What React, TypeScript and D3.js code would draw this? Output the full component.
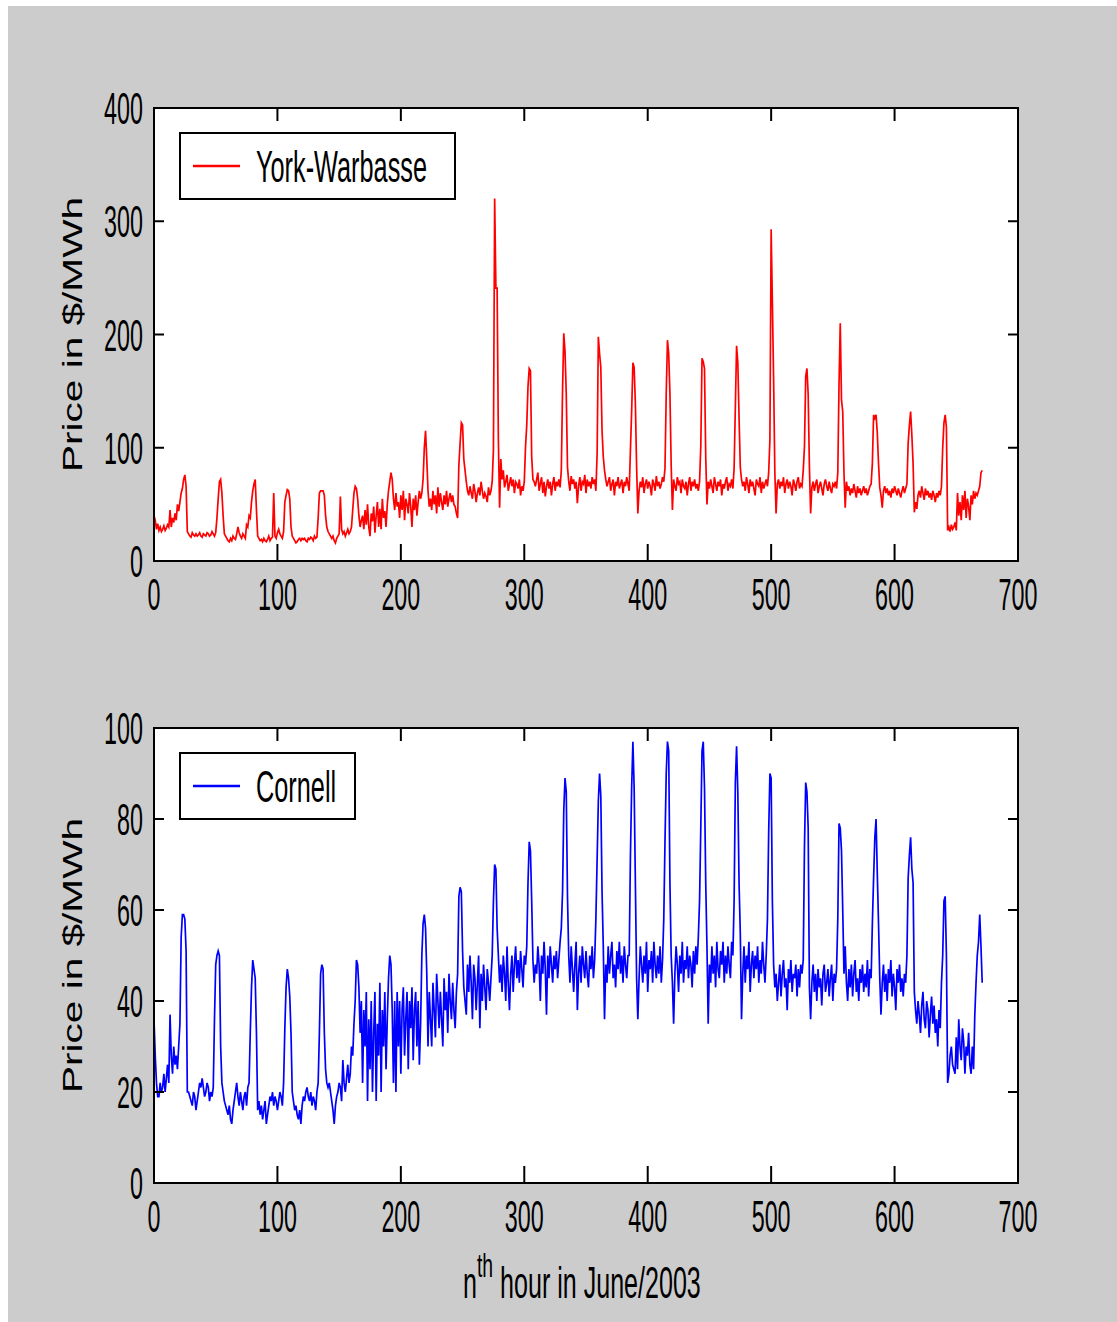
import React from 'react';
import * as d3 from 'd3';

// Hourly prices ($/MWh), one row of 28 samples per block.
const yorkRows: number[][] = [
  [40, 36, 28, 33, 27, 30, 26, 28, 31, 27, 29, 32, 30, 45, 30, 38, 34, 42, 36, 50, 44, 52, 60, 64, 72, 76, 66, 26],
  [24, 22, 21, 25, 23, 22, 24, 22, 23, 25, 22, 21, 24, 23, 22, 25, 24, 22, 23, 26, 24, 22, 25, 38, 55, 70, 72, 60],
  [40, 24, 22, 20, 18, 17, 20, 18, 22, 20, 19, 24, 30, 25, 22, 20, 24, 22, 20, 32, 30, 40, 38, 52, 62, 68, 72, 45],
  [22, 20, 18, 19, 17, 20, 18, 17, 19, 22, 18, 20, 21, 60, 22, 20, 25, 28, 24, 22, 20, 26, 52, 58, 63, 62, 55, 30],
  [22, 20, 18, 16, 17, 19, 20, 18, 20, 19, 20, 18, 17, 20, 19, 21, 20, 18, 22, 20, 21, 38, 60, 62, 62, 62, 58, 40],
  [30, 26, 24, 22, 20, 22, 18, 16, 20, 22, 24, 57, 28, 24, 26, 22, 25, 28, 24, 26, 30, 45, 60, 66, 64, 55, 40, 30],
  [36, 40, 28, 45, 32, 50, 30, 22, 42, 35, 48, 25, 40, 52, 30, 46, 28, 55, 38, 44, 30, 50, 62, 70, 78, 72, 55, 45],
  [60, 48, 52, 38, 58, 45, 62, 36, 55, 50, 42, 60, 48, 30, 55, 45, 58, 40, 52, 62, 55, 60, 72, 100, 115, 90, 62, 48],
  [55, 45, 62, 50, 58, 42, 65, 48, 60, 52, 45, 58, 50, 62, 48, 55, 60, 52, 58, 50, 48, 42, 38, 85, 104, 122, 120, 90],
  [80, 70, 62, 58, 66, 60, 55, 68, 62, 52, 60, 65, 58, 70, 62, 55, 60, 57, 52, 65, 58, 62, 70, 98, 320, 241, 241, 107],
  [47, 90, 72, 80, 65, 70, 76, 62, 68, 74, 66, 72, 60, 70, 68, 64, 72, 58, 66, 62, 70, 101, 120, 154, 170, 168, 92, 72],
  [70, 66, 72, 78, 62, 68, 74, 60, 70, 57, 66, 72, 64, 70, 58, 68, 74, 62, 70, 66, 72, 65, 80, 151, 201, 185, 148, 83],
  [70, 62, 75, 68, 72, 64, 70, 51, 66, 74, 62, 70, 68, 76, 60, 72, 66, 70, 64, 74, 68, 72, 62, 94, 198, 183, 171, 115],
  [92, 80, 72, 66, 70, 74, 62, 68, 72, 58, 70, 66, 74, 64, 68, 72, 60, 70, 66, 74, 68, 62, 98, 133, 175, 171, 139, 83],
  [42, 62, 70, 65, 74, 60, 68, 72, 64, 70, 66, 58, 72, 68, 62, 75, 66, 70, 64, 68, 74, 70, 82, 148, 195, 183, 148, 85],
  [45, 72, 66, 62, 74, 68, 70, 60, 72, 66, 64, 70, 58, 68, 74, 62, 70, 66, 72, 64, 68, 62, 70, 101, 179, 176, 170, 92],
  [50, 70, 64, 72, 66, 60, 74, 68, 62, 70, 66, 72, 58, 68, 64, 70, 74, 62, 68, 66, 72, 64, 82, 136, 190, 175, 127, 83],
  [72, 66, 70, 62, 74, 68, 60, 72, 66, 70, 64, 58, 72, 68, 66, 74, 60, 70, 64, 68, 72, 66, 78, 107, 293, 228, 160, 78],
  [42, 68, 72, 64, 70, 66, 74, 60, 68, 72, 64, 70, 66, 58, 72, 68, 62, 70, 74, 64, 68, 66, 80, 101, 163, 170, 147, 83],
  [42, 65, 70, 62, 68, 72, 60, 66, 70, 64, 58, 68, 72, 66, 62, 70, 64, 60, 68, 66, 70, 64, 78, 157, 210, 142, 132, 78],
  [47, 70, 62, 66, 58, 64, 60, 68, 62, 56, 66, 60, 64, 58, 62, 66, 60, 64, 58, 62, 66, 68, 86, 129, 126, 129, 113, 86],
  [65, 58, 47, 62, 66, 60, 64, 58, 62, 56, 64, 60, 66, 62, 58, 64, 60, 56, 62, 66, 60, 64, 68, 104, 120, 132, 111, 86],
  [43, 52, 46, 58, 62, 56, 66, 60, 54, 64, 58, 62, 56, 60, 54, 62, 58, 52, 60, 56, 62, 58, 66, 100, 122, 129, 118, 27],
  [30, 26, 32, 28, 30, 34, 27, 60, 40, 52, 36, 58, 45, 62, 38, 55, 48, 36, 58, 50, 62, 55, 60, 58, 62, 66, 78, 80],
];

const cornellRows: number[][] = [
  [36, 28, 22, 19, 19, 22, 20, 21, 24, 20, 23, 26, 22, 37, 28, 24, 30, 26, 28, 25, 30, 35, 54, 59, 59, 58, 51, 20],
  [20, 19, 18, 17, 20, 19, 16, 18, 20, 22, 21, 23, 21, 19, 20, 22, 21, 18, 20, 19, 21, 36, 48, 50, 51, 50, 30, 22],
  [20, 18, 17, 16, 15, 17, 14, 13, 16, 18, 20, 22, 19, 17, 20, 18, 16, 19, 20, 17, 21, 22, 33, 43, 49, 47, 45, 33],
  [16, 18, 15, 17, 14, 16, 18, 13, 15, 17, 19, 18, 20, 17, 19, 18, 16, 18, 20, 19, 17, 22, 34, 43, 47, 45, 41, 33],
  [20, 18, 16, 17, 15, 14, 16, 13, 17, 19, 18, 20, 21, 19, 18, 20, 17, 19, 18, 16, 20, 22, 33, 46, 48, 47, 33, 25],
  [22, 21, 22, 20, 18, 16, 13, 17, 19, 20, 22, 21, 18, 27, 22, 20, 23, 26, 22, 24, 30, 28, 35, 40, 49, 48, 43, 33],
  [40, 22, 38, 30, 42, 18, 36, 25, 40, 20, 33, 42, 18, 35, 28, 44, 20, 38, 30, 42, 25, 36, 45, 50, 48, 38, 22, 40],
  [20, 42, 30, 40, 24, 38, 43, 28, 36, 42, 25, 40, 34, 43, 27, 38, 42, 30, 40, 26, 35, 50, 57, 59, 56, 46, 30, 42],
  [36, 30, 44, 38, 32, 46, 40, 34, 42, 36, 30, 45, 38, 42, 33, 46, 40, 36, 44, 38, 34, 42, 46, 63, 65, 64, 51, 43],
  [40, 37, 48, 42, 50, 44, 36, 48, 45, 38, 44, 50, 34, 46, 40, 48, 43, 38, 47, 44, 40, 45, 50, 62, 70, 69, 56, 50],
  [44, 48, 42, 50, 46, 40, 52, 44, 38, 46, 50, 42, 48, 52, 45, 49, 44, 51, 47, 43, 50, 48, 52, 66, 75, 73, 62, 49],
  [44, 48, 46, 52, 48, 40, 50, 46, 53, 47, 37, 50, 45, 52, 48, 44, 50, 47, 51, 45, 49, 53, 56, 64, 82, 89, 86, 63],
  [50, 44, 52, 47, 42, 48, 53, 38, 46, 50, 44, 52, 48, 45, 51, 46, 43, 50, 47, 52, 45, 49, 58, 71, 84, 90, 85, 64],
  [52, 36, 48, 44, 52, 46, 50, 53, 45, 48, 43, 51, 47, 53, 46, 50, 44, 52, 48, 45, 50, 50, 72, 87, 97, 87, 66, 45],
  [36, 45, 52, 48, 44, 50, 46, 53, 42, 49, 47, 51, 44, 53, 48, 45, 50, 46, 52, 44, 49, 58, 75, 90, 97, 95, 66, 50],
  [44, 35, 46, 52, 48, 42, 50, 46, 53, 44, 49, 47, 52, 45, 50, 48, 43, 51, 46, 52, 48, 54, 62, 78, 95, 97, 87, 66],
  [52, 35, 48, 44, 52, 46, 50, 43, 53, 47, 45, 51, 48, 53, 44, 50, 46, 52, 48, 45, 53, 50, 62, 88, 96, 86, 66, 55],
  [36, 46, 52, 44, 50, 47, 53, 42, 48, 51, 45, 50, 47, 52, 44, 49, 46, 53, 48, 44, 50, 58, 77, 90, 89, 62, 48, 43],
  [46, 40, 44, 48, 41, 46, 49, 43, 45, 38, 47, 44, 49, 42, 46, 45, 48, 41, 47, 43, 48, 46, 49, 74, 88, 86, 78, 43],
  [36, 44, 48, 42, 46, 40, 47, 43, 45, 39, 46, 48, 42, 44, 47, 41, 45, 48, 40, 46, 44, 47, 58, 79, 78, 73, 60, 46],
  [52, 44, 40, 47, 43, 48, 41, 46, 49, 42, 45, 40, 47, 44, 48, 42, 46, 43, 49, 41, 47, 45, 57, 67, 76, 80, 68, 57],
  [45, 37, 44, 48, 42, 46, 40, 47, 44, 49, 41, 46, 43, 38, 47, 44, 48, 42, 45, 41, 46, 44, 50, 67, 72, 76, 69, 66],
  [42, 38, 35, 40, 37, 33, 39, 42, 36, 34, 40, 38, 32, 37, 41, 35, 39, 33, 36, 30, 38, 34, 44, 50, 62, 63, 50, 22],
  [24, 28, 30, 26, 25, 24, 32, 25, 36, 30, 27, 34, 31, 24, 30, 28, 33, 26, 24, 30, 25, 37, 44, 50, 53, 59, 52, 44],
];

const york = yorkRows.flat();
const cornell = cornellRows.flat();

const hourTicks = [0, 100, 200, 300, 400, 500, 600, 700];
const yorkTicks = [0, 100, 200, 300, 400];
const cornellTicks = [0, 20, 40, 60, 80, 100];

const FONT = "'Liberation Sans', Arial, Helvetica, sans-serif";
const SX = 0.53; // narrow, tall glyphs

type TxtProps = { x: number; y: number; anchor?: string; size?: number; sx?: number; children: React.ReactNode };
function Txt({ x, y, anchor = 'middle', size = 44, sx = SX, children }: TxtProps) {
  return (
    <text
      transform={`translate(${x},${y}) scale(${sx},1)`}
      textAnchor={anchor}
      fontSize={size}
      fontFamily={FONT}
      fill="#000"
    >
      {children}
    </text>
  );
}

type PanelProps = {
  top: number;
  bottom: number;
  data: number[];
  color: string;
  yMax: number;
  yTicks: number[];
  name: string;
  legendW: number;
};

function Panel({ top, bottom, data, color, yMax, yTicks, name, legendW }: PanelProps) {
  const left = 154;
  const right = 1018;
  const x = d3.scaleLinear().domain([0, 700]).range([left, right]);
  const y = d3.scaleLinear().domain([0, yMax]).range([bottom, top]);
  const line = d3
    .line<number>()
    .x((_, i) => x(i))
    .y((d) => y(d));

  const lgX = left + 26;
  const lgY = top + 25;
  const lgH = 66;

  return (
    <g>
      <rect x={left} y={top} width={right - left} height={bottom - top} fill="#fff" />
      <path d={line(data) ?? ''} fill="none" stroke={color} strokeWidth={1.7} strokeLinejoin="miter" />
      {/* ticks on all four sides, pointing inward */}
      {hourTicks.map((t) => (
        <g key={`xt${t}`} stroke="#000" strokeWidth={2}>
          <line x1={x(t)} x2={x(t)} y1={bottom} y2={bottom - 17} />
          <line x1={x(t)} x2={x(t)} y1={top} y2={top + 13} />
        </g>
      ))}
      {yTicks.map((t) => (
        <g key={`yt${t}`} stroke="#000" strokeWidth={2}>
          <line x1={left} x2={left + 10} y1={y(t)} y2={y(t)} />
          <line x1={right} x2={right - 10} y1={y(t)} y2={y(t)} />
        </g>
      ))}
      <rect x={left} y={top} width={right - left} height={bottom - top} fill="none" stroke="#000" strokeWidth={2} />
      {hourTicks.map((t) => (
        <Txt key={`xl${t}`} x={x(t)} y={bottom + 49}>
          {t}
        </Txt>
      ))}
      {yTicks.map((t) => (
        <Txt key={`yl${t}`} x={143} y={y(t) + 16} anchor="end">
          {t}
        </Txt>
      ))}
      <text
        transform={`translate(82,${(top + bottom) / 2}) rotate(-90)`}
        textAnchor="middle"
        fontSize={28}
        fontFamily={FONT}
        textLength={275}
        lengthAdjust="spacingAndGlyphs"
        fill="#000"
      >
        Price in $/MWh
      </text>
      {/* legend */}
      <rect x={lgX} y={lgY} width={legendW} height={lgH} fill="#fff" stroke="#000" strokeWidth={2} />
      <line x1={lgX + 13} x2={lgX + 60} y1={lgY + lgH / 2} y2={lgY + lgH / 2} stroke={color} strokeWidth={2.5} />
      <Txt x={lgX + 76} y={lgY + lgH / 2 + 16} anchor="start" sx={0.575}>
        {name}
      </Txt>
    </g>
  );
}

export default function App() {
  return (
    <svg
      width={1117}
      height={1322}
      style={{ position: 'absolute', left: 0, top: 0, display: 'block' }}
    >
      <rect x={0} y={0} width={1117} height={1322} fill="#fff" />
      <rect x={8} y={6} width={1109} height={1316} fill="#cccccc" />
      <Panel
        top={108}
        bottom={561}
        data={york}
        color="#ff0000"
        yMax={400}
        yTicks={yorkTicks}
        name="York-Warbasse"
        legendW={275}
      />
      <Panel
        top={728}
        bottom={1183}
        data={cornell}
        color="#0000ff"
        yMax={100}
        yTicks={cornellTicks}
        name="Cornell"
        legendW={175}
      />
      <text transform="translate(463,1298) scale(0.57,1)" fontSize={44} fontFamily={FONT} fill="#000">
        <tspan>n</tspan>
        <tspan dy={-21} fontSize={34}>th</tspan>
        <tspan dy={21}> hour in June/2003</tspan>
      </text>
    </svg>
  );
}
